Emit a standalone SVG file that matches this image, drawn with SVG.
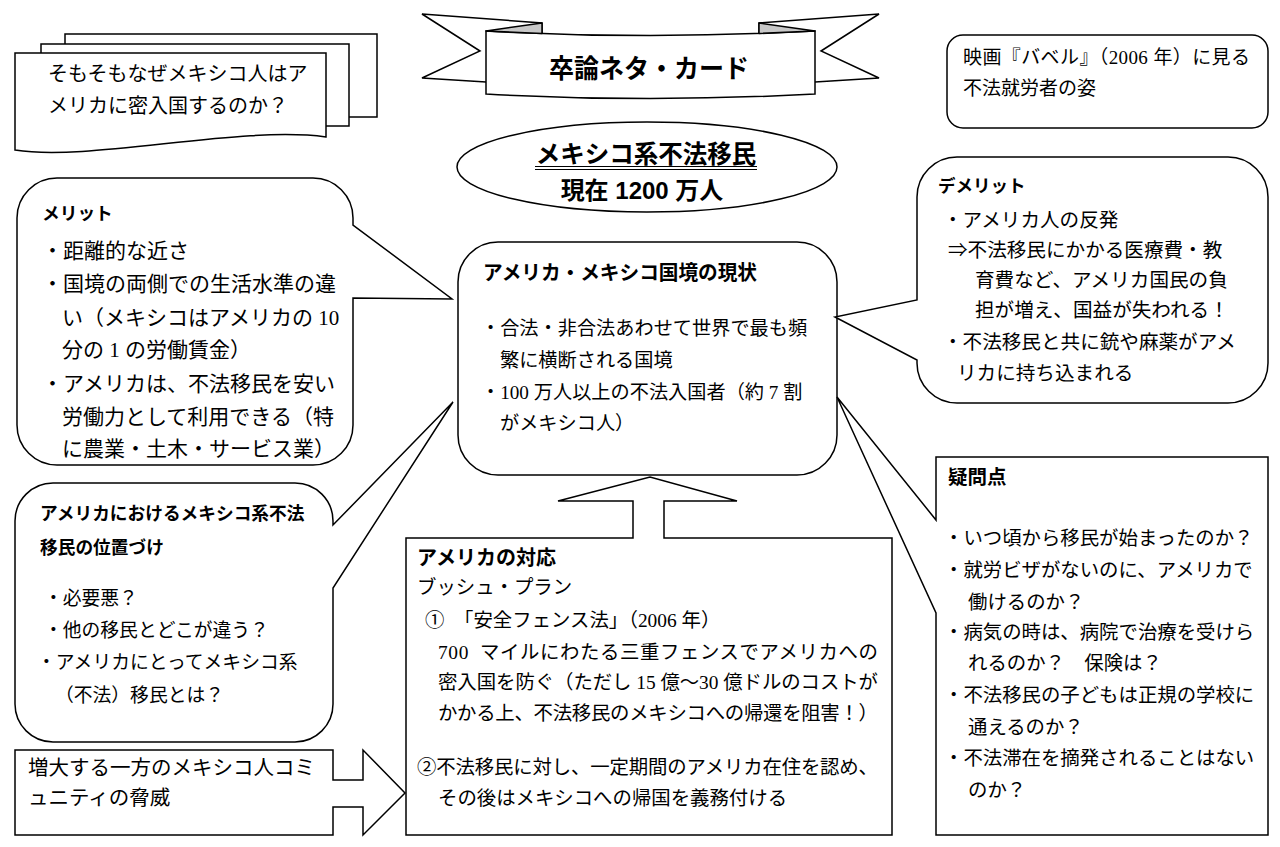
<svg xmlns="http://www.w3.org/2000/svg" width="1280" height="847" viewBox="0 0 1280 847">
<style>
.sh{fill:#fff;stroke:#000;stroke-width:1.5;stroke-linejoin:miter}
.t{font-family:"Liberation Serif","Noto Sans CJK JP",serif;fill:#000}
.b{font-family:"Liberation Sans","Noto Sans CJK JP",sans-serif;font-weight:700;fill:#000}
</style>
<rect x="0" y="0" width="1280" height="847" fill="#fff"/>

<g id="pages">
<rect class="sh" x="65" y="34" width="312" height="83"/>
<rect class="sh" x="41" y="44" width="308" height="82"/>
<path class="sh" d="M15,53 H326 V137 C240,125 90,162 15,150 Z"/>
<text class="t" font-size="20" x="48" y="81">そもそもなぜメキシコ人はア</text>
<text class="t" font-size="20" x="48" y="113">メリカに密入国するのか？</text>
</g>

<g id="banner">
<path class="sh" d="M422,14 L542,23 L542,70 L486,82 L422,78 L480,51 Z"/>
<path class="sh" d="M879,14 L759,23 L759,70 L815,82 L879,78 L821,51 Z"/>
<path class="sh" d="M486,31 Q650,40 815,31 V94 Q650,103 486,94 Z"/>
<path d="M486,31 L542,23 L542,33.5 Z" fill="#c8c8c8" stroke="#000" stroke-width="1.5" stroke-linejoin="round"/>
<path d="M815,31 L759,23 L759,33.5 Z" fill="#c8c8c8" stroke="#000" stroke-width="1.5" stroke-linejoin="round"/>
<text class="b" font-size="26" x="649" y="78" text-anchor="middle" textLength="200" lengthAdjust="spacingAndGlyphs">卒論ネタ・カード</text>
</g>

<g id="movie">
<rect class="sh" x="947" y="35" width="321" height="93" rx="16"/>
<text class="t" font-size="19" x="963" y="64" textLength="287">映画『バベル』（2006 年）に見る</text>
<text class="t" font-size="19" x="963" y="95">不法就労者の姿</text>
</g>

<g id="total">
<ellipse class="sh" cx="647" cy="167" rx="190" ry="45"/>
<text class="b" font-size="24.5" x="646" y="163" text-anchor="middle">メキシコ系不法移民</text>
<line x1="535" y1="166.5" x2="757" y2="166.5" stroke="#000" stroke-width="1.2"/>
<line x1="535" y1="169.5" x2="757" y2="169.5" stroke="#000" stroke-width="1.2"/>
<text class="b" font-size="24" x="642" y="199" text-anchor="middle">現在 1200 万人</text>
</g>

<g id="merit">
<path class="sh" d="M57,178 H313 A40,40 0 0 1 353,218 V225 L452,299 L353,298 V425 A40,40 0 0 1 313,465 H57 A40,40 0 0 1 17,425 V218 A40,40 0 0 1 57,178 Z"/>
<text class="b" font-size="17.7" x="42" y="220">メリット</text>
<text class="t" font-size="21" x="42" y="258">・距離的な近さ</text>
<text class="t" font-size="21" x="42" y="291">・国境の両側での生活水準の違</text>
<text class="t" font-size="21" x="62" y="325">い（メキシコはアメリカの 10</text>
<text class="t" font-size="21" x="62" y="357">分の 1 の労働賃金）</text>
<text class="t" font-size="21" x="42" y="391">・アメリカは、不法移民を安い</text>
<text class="t" font-size="21" x="62" y="424">労働力として利用できる（特</text>
<text class="t" font-size="21" x="62" y="456">に農業・土木・サービス業）</text>
</g>

<g id="border">
<rect class="sh" x="458" y="242" width="379" height="233" rx="40"/>
<text class="b" font-size="20" x="483" y="280" textLength="274" lengthAdjust="spacingAndGlyphs">アメリカ・メキシコ国境の現状</text>
<text class="t" font-size="19.2" x="481" y="335">・合法・非合法あわせて世界で最も頻</text>
<text class="t" font-size="19.2" x="500" y="367">繁に横断される国境</text>
<text class="t" font-size="19.2" x="481" y="399">・100 万人以上の不法入国者（約 7 割</text>
<text class="t" font-size="19.2" x="500" y="430">がメキシコ人）</text>
</g>

<g id="demerit">
<path class="sh" d="M957,157 H1228 A40,40 0 0 1 1268,197 V363 A40,40 0 0 1 1228,403 H957 A40,40 0 0 1 917,363 V360 L835,317 L917,300 V197 A40,40 0 0 1 957,157 Z"/>
<text class="b" font-size="17.5" x="938" y="192">デメリット</text>
<text class="t" font-size="19.6" x="943" y="227">・アメリカ人の反発</text>
<text class="t" font-size="19.6" x="948" y="257">⇒不法移民にかかる医療費・教</text>
<text class="t" font-size="19.6" x="975" y="287">育費など、アメリカ国民の負</text>
<text class="t" font-size="19.6" x="975" y="317">担が増え、国益が失われる！</text>
<text class="t" font-size="19.6" x="943" y="349">・不法移民と共に銃や麻薬がアメ</text>
<text class="t" font-size="19.6" x="957" y="380">リカに持ち込まれる</text>
</g>

<g id="questions">
<path class="sh" d="M936,457 H1268 V835 H936 V613 L837,397 L936,520 Z"/>
<text class="b" font-size="19.5" x="948" y="484">疑問点</text>
<text class="t" font-size="19.4" x="944" y="545">・いつ頃から移民が始まったのか？</text>
<text class="t" font-size="19.4" x="944" y="577">・就労ビザがないのに、アメリカで</text>
<text class="t" font-size="19.4" x="968" y="609">働けるのか？</text>
<text class="t" font-size="19.4" x="944" y="639">・病気の時は、病院で治療を受けら</text>
<text class="t" font-size="19.4" x="968" y="670">れるのか？　保険は？</text>
<text class="t" font-size="19.4" x="944" y="702">・不法移民の子どもは正規の学校に</text>
<text class="t" font-size="19.4" x="968" y="734">通えるのか？</text>
<text class="t" font-size="19.4" x="944" y="765">・不法滞在を摘発されることはない</text>
<text class="t" font-size="19.4" x="968" y="797">のか？</text>
</g>

<g id="position">
<path class="sh" d="M53,483 H295 A38,38 0 0 1 333,521 V525 L453,402 L333,588 V704 A38,38 0 0 1 295,742 H53 A38,38 0 0 1 15,704 V521 A38,38 0 0 1 53,483 Z"/>
<text class="b" font-size="17.7" x="40" y="520">アメリカにおけるメキシコ系不法</text>
<text class="b" font-size="17.7" x="40" y="554">移民の位置づけ</text>
<text class="t" font-size="18.8" x="44" y="605">・必要悪？</text>
<text class="t" font-size="18.8" x="44" y="637">・他の移民とどこが違う？</text>
<text class="t" font-size="18.8" x="37" y="669">・アメリカにとってメキシコ系</text>
<text class="t" font-size="18.8" x="55" y="702">（不法）移民とは？</text>
</g>

<g id="response">
<path class="sh" d="M406,538 H633 V501 H558 L650,477 L737,501 H664 V538 H892 V835 H406 Z"/>
<text class="b" font-size="20" x="417" y="565">アメリカの対応</text>
<text class="t" font-size="19.4" x="417" y="594">ブッシュ・プラン</text>
<text class="t" font-size="19.4" x="425" y="627">①&#160;&#160;「安全フェンス法」（2006 年）</text>
<text class="t" font-size="19.4" x="438" y="659" textLength="440">700&#160;&#160;マイルにわたる三重フェンスでアメリカへの</text>
<text class="t" font-size="19.4" x="438" y="689" textLength="440">密入国を防ぐ（ただし 15 億～30 億ドルのコストが</text>
<text class="t" font-size="19.4" x="438" y="720" textLength="440">かかる上、不法移民のメキシコへの帰還を阻害！）</text>
<text class="t" font-size="19.4" x="417" y="774" textLength="461">②不法移民に対し、一定期間のアメリカ在住を認め、</text>
<text class="t" font-size="19.4" x="438" y="805">その後はメキシコへの帰国を義務付ける</text>
</g>

<g id="community">
<path class="sh" d="M15,750 H333 V780 H363 V750 L405,793 L363,835 V807 H333 V835 H15 Z"/>
<text class="t" font-size="20.5" x="28" y="775">増大する一方のメキシコ人コミ</text>
<text class="t" font-size="20.5" x="28" y="805">ュニティの脅威</text>
</g>

<g id="connectors"></g>
</svg>
